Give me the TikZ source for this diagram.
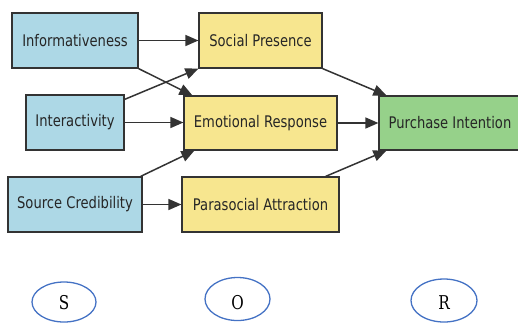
\documentclass[tikz,border=0pt]{standalone}
\usepackage{fontspec}
\setmainfont{DejaVu Sans}[FakeStretch=0.82]
\newfontfamily\letterfont{DejaVu Serif}[FakeStretch=0.8]
\usetikzlibrary{arrows.meta}
\definecolor{srcblue}{HTML}{ADD8E6}
\definecolor{orgyellow}{HTML}{F7E68F}
\definecolor{respgreen}{HTML}{96D18A}
\definecolor{edgegray}{HTML}{333333}
\definecolor{ringblue}{HTML}{4472C4}
\definecolor{labelgray}{HTML}{262626}
\begin{document}
\begin{tikzpicture}[x=1pt,y=-1pt,
  box/.style={draw=edgegray, line width=1.2pt, inner sep=0pt, minimum height=55pt,
    text=labelgray, font=\fontsize{16}{18}\selectfont},
  sbox/.style={box, fill=srcblue},
  obox/.style={box, fill=orgyellow},
  rbox/.style={box, fill=respgreen},
  arr/.style={draw=edgegray, line width=1.5pt, -{Triangle[length=13pt,width=11pt]}},
  ring/.style={draw=ringblue, line width=1.3pt},
  letter/.style={font=\letterfont\fontsize{19}{21}\selectfont, text=black}
]
\useasboundingbox (0,0) rectangle (518,322);
\clip (0,0) rectangle (518,322);

% stimulus column
\node[sbox, minimum width=126pt] (info)  at (75,40.5)  {Informativeness};
\node[sbox, minimum width=98pt]  (inter) at (75,122.5) {Interactivity};
\node[sbox, minimum width=134pt] (src)   at (75,204.5) {Source Credibility};

% organism column
\node[obox, minimum width=123pt] (soc)  at (260.5,40.5) {Social Presence};
\node[obox, minimum width=153pt, minimum height=54pt] (emo) at (260.5,123) {Emotional Response};
\node[obox, minimum width=157pt] (para) at (260.5,204.5) {Parasocial Attraction};

% response
\node[rbox, minimum width=142pt, minimum height=54pt] (pur) at (450,123) {Purchase Intention};

% paths S -> O
\draw[arr] (info.east) -- (info.east -| soc.west);
\draw[arr] (info.south east) -- ([xshift=9pt]emo.north west);
\draw[arr] ([yshift=-5pt]inter.north east) -- (soc.south west);
\draw[arr] (inter.east) -- (inter.east -| emo.west);
\draw[arr] ([xshift=-2pt]src.north east) -- ([xshift=11pt]emo.south west);
\draw[arr] (src.east) -- (src.east -| para.west);

% paths O -> R
\draw[arr] (soc.south east) -- ([xshift=8pt]pur.north west);
\draw[arr] (emo.east) -- (emo.east -| pur.west);
\draw[arr] ([xshift=-14pt]para.north east) -- ([xshift=8pt]pur.south west);

% S-O-R labels
\draw[ring] (64,302) ellipse (32pt and 20pt);
\draw[ring] (237.5,299) ellipse (32.5pt and 21.5pt);
\draw[ring] (444,300.5) ellipse (33pt and 21.5pt);
\node[letter] (s) at (64,303) {S};
\node[letter] (o) at (237.5,303) {O};
\node[letter] (r) at (444,303) {R};
\end{tikzpicture}
\end{document}
